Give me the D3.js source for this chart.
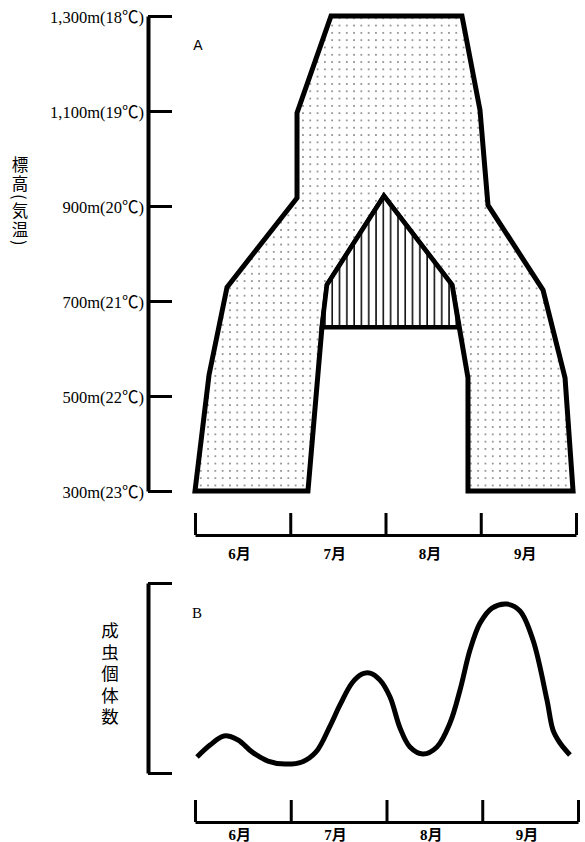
<!DOCTYPE html>
<html><head><meta charset="utf-8">
<script src="https://cdn.jsdelivr.net/npm/d3@7"></script>
<style>
html,body{margin:0;padding:0;background:#fff;}
svg{display:block;}
</style></head>
<body>
<script>
// ---- data ----
const elevTicks = [300, 500, 700, 900, 1100, 1300];
const tempTicks = [23, 22, 21, 20, 19, 18];
const months = ["6月", "7月", "8月", "9月"];
const monthEdges = [0, 1, 2, 3, 4];
// outer distribution area: [month position (0 = 1 June), elevation m]
const outerShape = [
  [0.000, 300], [0.147, 544], [0.336, 729], [1.071, 917], [1.071, 1096],
  [1.428, 1300], [2.803, 1300], [2.992, 1102], [3.076, 902], [3.654, 723],
  [3.885, 538], [3.969, 300], [2.866, 300], [2.866, 538], [2.698, 734],
  [1.984, 921], [1.386, 734], [1.333, 645], [1.186, 300]
];
// hatched area
const hatchShape = [
  [1.333, 645], [1.386, 734], [1.984, 921], [2.698, 734], [2.770, 645]
];
// adult count curve: [month position, relative count]
const countCurve = [
  [0.021, 8.4], [0.157, 14.7], [0.303, 19.5], [0.449, 17.4], [0.595, 11.1],
  [0.762, 6.3], [0.940, 4.7], [1.117, 5.8], [1.264, 11.1], [1.410, 24.7],
  [1.514, 35.8], [1.640, 47.4], [1.744, 52.1], [1.828, 52.6], [1.932, 48.9],
  [2.037, 40.0], [2.141, 23.7], [2.245, 13.7], [2.381, 10.0], [2.527, 13.7],
  [2.663, 26.3], [2.768, 43.7], [2.872, 64.7], [2.977, 78.9], [3.102, 86.8],
  [3.258, 88.9], [3.394, 85.3], [3.530, 70.0], [3.676, 38.4], [3.739, 22.6],
  [3.812, 15.8], [3.916, 9.5]
];

// ---- drawing ----
const W = 585, H = 842;
const svg = d3.select("body").append("svg").attr("width", W).attr("height", H);
const defs = svg.append("defs");
const dots = defs.append("pattern").attr("id", "dots").attr("patternUnits", "userSpaceOnUse")
  .attr("width", 7.3).attr("height", 7.3);
dots.append("rect").attr("width", 7.3).attr("height", 7.3).attr("fill", "#fff");
dots.append("rect").attr("x", 3).attr("y", 3).attr("width", 1.3).attr("height", 1.3).attr("fill", "#333");
const hatch = defs.append("pattern").attr("id", "hatch").attr("patternUnits", "userSpaceOnUse")
  .attr("width", 7.3).attr("height", 10);
hatch.append("rect").attr("width", 7.3).attr("height", 10).attr("fill", "#fff");
hatch.append("rect").attr("x", 3).attr("y", 0).attr("width", 1.5).attr("height", 10).attr("fill", "#000");

const serif = "'Liberation Serif','Times New Roman','Noto Sans CJK JP',serif";
const cjk = "'Noto Sans CJK JP','Noto Sans CJK SC',sans-serif";

// Panel A scales
const xA = d3.scaleLinear([0, 4], [195, 576]);
const yA = d3.scaleLinear([300, 1300], [491, 16]);

// Y axis A (line + ticks)
const axA = svg.append("g").attr("transform", `translate(${xA(0) - 47},0)`)
  .call(d3.axisRight(yA).tickValues(elevTicks).tickSize(24).tickSizeOuter(0).tickFormat(""));
axA.select(".domain").attr("stroke-width", 4).attr("stroke", "#000");
axA.selectAll(".tick line").attr("stroke-width", 3).attr("stroke", "#000");

// tick labels
const labA = svg.append("g").attr("transform", `translate(${xA(0) - 51},0)`)
  .call(d3.axisLeft(yA).tickValues(elevTicks).tickSize(0).tickPadding(0)
    .tickFormat((d, i) => d3.format(",")(d) + "m(" + tempTicks[i] + "℃)"));
labA.select(".domain").remove();
labA.selectAll("text").attr("font-family", serif).attr("font-size", 16.5).attr("fill", "#000")
  .attr("dy", "0.4em");

// shapes
const lineA = d3.line().x(d => xA(d[0])).y(d => yA(d[1]));
svg.append("path").attr("d", lineA(outerShape) + "Z")
  .attr("fill", "url(#dots)").attr("stroke", "#000").attr("stroke-width", 5)
  .attr("stroke-linejoin", "miter");
svg.append("path").attr("d", lineA(hatchShape) + "Z")
  .attr("fill", "url(#hatch)").attr("stroke", "#000").attr("stroke-width", 4.5)
  .attr("stroke-linejoin", "miter");

svg.append("text").attr("x", 198).attr("y", 50).attr("text-anchor", "middle")
  .attr("font-family", "'Liberation Sans',Arial,sans-serif").attr("font-size", 14).text("A");

// y title A (vertical)
svg.append("text").attr("x", 20).attr("y", 156)
  .style("writing-mode", "vertical-rl").style("letter-spacing", "2.5px")
  .attr("font-family", cjk).attr("font-size", 16.5).attr("fill", "#000")
  .text("標高(気温)");

// month axis helper
function monthAxis(x, yLine, labelOffset) {
  const g = svg.append("g").attr("transform", `translate(0,${yLine})`)
    .call(d3.axisTop(x).tickValues(monthEdges).tickSize(22).tickSizeOuter(0).tickFormat(""));
  g.select(".domain").attr("stroke-width", 3).attr("stroke", "#000");
  g.selectAll(".tick line").attr("stroke-width", 3).attr("stroke", "#000");
  svg.append("g").selectAll("text").data(months).join("text")
    .attr("x", (d, i) => x(i + 0.5) - 3).attr("y", yLine + labelOffset)
    .attr("text-anchor", "middle")
    .attr("font-family", serif).attr("font-weight", "bold").attr("font-size", 15)
    .text(d => d);
}
monthAxis(xA, 535, 24);

// Panel B
const xB = d3.scaleLinear([0, 4], [195, 578]);
const yB = d3.scaleLinear([0, 100], [773, 583]);
const axB = svg.append("g").attr("transform", `translate(148,0)`)
  .call(d3.axisRight(yB).tickValues([0, 100]).tickSize(24).tickSizeOuter(0).tickFormat(""));
axB.select(".domain").attr("stroke-width", 4).attr("stroke", "#000");
axB.selectAll(".tick line").attr("stroke-width", 3).attr("stroke", "#000");

svg.append("text").attr("x", 197).attr("y", 618).attr("text-anchor", "middle")
  .attr("font-family", serif).attr("font-size", 15).text("B");

svg.append("text").attr("x", 110).attr("y", 622)
  .style("writing-mode", "vertical-rl").style("letter-spacing", "4px")
  .attr("font-family", cjk).attr("font-size", 17.5).attr("fill", "#000")
  .text("成虫個体数");

const lineB = d3.line().x(d => xB(d[0])).y(d => yB(d[1])).curve(d3.curveCatmullRom.alpha(0.5));
svg.append("path").attr("d", lineB(countCurve))
  .attr("fill", "none").attr("stroke", "#000").attr("stroke-width", 5);

monthAxis(xB, 822, 18);
</script>
</body></html>
